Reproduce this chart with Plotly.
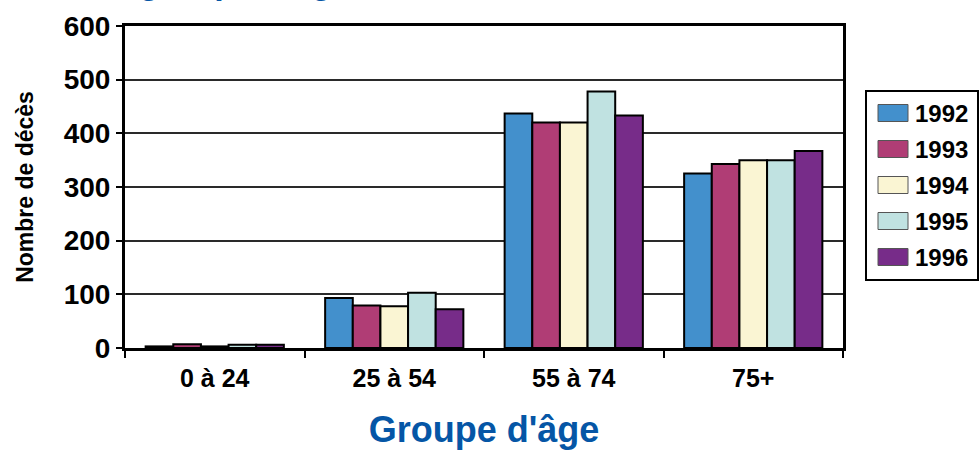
import plotly.graph_objects as go

categories = ["0 à 24", "25 à 54", "55 à 74", "75+"]
years = ["1992", "1993", "1994", "1995", "1996"]
values = {
    "1992": [3, 93, 437, 325],
    "1993": [7, 79, 420, 343],
    "1994": [3, 78, 420, 350],
    "1995": [6, 103, 478, 350],
    "1996": [6, 72, 433, 367],
}
colors = ["#4390CC", "#B03D75", "#FAF5D3", "#C0E2E1", "#772C89"]
y_ticks = [0, 100, 200, 300, 400, 500, 600]

FONT = "Liberation Sans, Arial, sans-serif"
BLUE = "#0556A6"

fig = go.Figure()
for yr, col in zip(years, colors):
    fig.add_trace(go.Bar(
        x=categories, y=values[yr], name=yr,
        marker=dict(color=col, line=dict(color="black", width=2)),
        showlegend=False,
    ))

# plot area pixel geometry (for legend/title placement in paper coords)
L, R, T, B = 125, 843, 26, 348
W, H = R - L, B - T
def px(x):
    return (x - L) / W
def py(y):
    return (B - y) / H

shapes = []
annotations = []
# legend frame
shapes.append(dict(type="rect", xref="paper", yref="paper",
                   x0=px(866), x1=px(978), y0=py(280), y1=py(91),
                   line=dict(color="black", width=2), fillcolor="white", layer="above"))
row0, step = 113, 36
for i, (yr, col) in enumerate(zip(years, colors)):
    cy = row0 + i * step
    shapes.append(dict(type="rect", xref="paper", yref="paper",
                       x0=px(878), x1=px(908), y0=py(cy + 8.5), y1=py(cy - 8.5),
                       line=dict(color="#555555", width=1), fillcolor=col, layer="above"))
    annotations.append(dict(xref="paper", yref="paper", x=px(913), y=py(cy),
                            xanchor="left", yanchor="middle", showarrow=False,
                            text=yr, font=dict(family=FONT, size=24, color="black", weight="bold")))

# top title (mostly cut off in the reference)
annotations.append(dict(xref="paper", yref="paper", x=px(-109), y=py(-18),
                        xanchor="left", yanchor="middle", showarrow=False,
                        text="Décès selon le groupe d'âge, 1992 à 1996",
                        font=dict(family=FONT, size=34, color=BLUE, weight="bold")))

fig.update_layout(
    width=980, height=458,
    margin=dict(l=L, r=980 - R, t=T, b=458 - B, pad=0),
    paper_bgcolor="white", plot_bgcolor="white",
    barmode="group", bargap=0.23, bargroupgap=0,
    shapes=shapes, annotations=annotations,
    showlegend=False,
    xaxis=dict(
        type="category",
        showline=True, mirror=True, linecolor="black", linewidth=3,
        ticks="outside", tickson="boundaries", ticklen=7, tickwidth=2, tickcolor="black",
        tickfont=dict(family=FONT, size=25, color="black", weight="bold"),
        ticklabelstandoff=6,
        showgrid=False,
        title=dict(text="Groupe d'âge", standoff=26,
                   font=dict(family=FONT, size=36, color=BLUE, weight="bold")),
    ),
    yaxis=dict(
        range=[0, 600], tickvals=y_ticks,
        showline=True, mirror=True, linecolor="black", linewidth=3,
        ticks="outside", ticklen=6, tickwidth=2, tickcolor="black",
        tickfont=dict(family=FONT, size=28, color="black", weight="bold"),
        showgrid=True, gridcolor="#2a2a2a", gridwidth=2,
        zeroline=False,
        title=dict(text="Nombre de décès", standoff=24,
                   font=dict(family=FONT, size=23, color="black", weight="bold")),
    ),
)

fig.write_html("out.html")
